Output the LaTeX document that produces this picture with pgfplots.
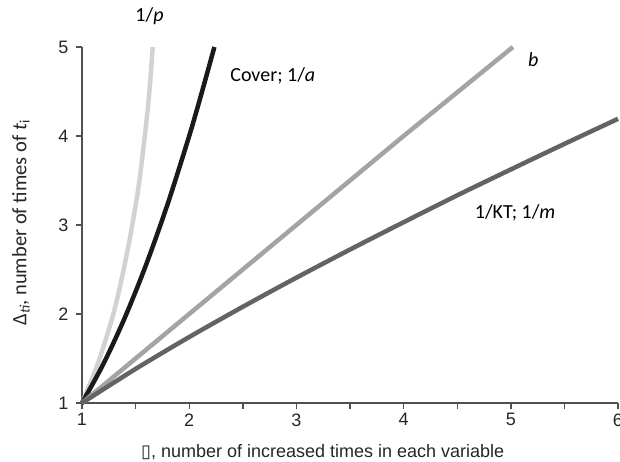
\documentclass[border=0pt]{standalone}
\usepackage{pgfplots}
\pgfplotsset{compat=1.18}
\usepackage{fontspec}
\setmainfont{Liberation Sans}
\newfontfamily\carlito{Carlito}
\newfontfamily\dejavu{DejaVu Sans}
\definecolor{lgray}{HTML}{D2D2D2}
\definecolor{mgray}{HTML}{A4A4A4}
\definecolor{dgray}{HTML}{636363}
\definecolor{blk}{HTML}{1A1A1A}
\definecolor{axc}{HTML}{505050}
\begin{document}
\begin{tikzpicture}
\begin{axis}[
  scale only axis,
  width=536pt, height=356pt,
  xmin=1, xmax=6, ymin=1, ymax=5,
  axis lines=left,
  axis line style={axc, line width=1.4pt, -},
  xtick={1,2,3,4,5,6},
  minor xtick={1.5,2.5,3.5,4.5,5.5},
  ytick={1,2,3,4,5},
  tick align=outside,
  major tick length=6pt,
  minor tick length=6pt,
  tick style={axc, line width=1.4pt},
  /pgf/number format/assume math mode=true,
  ticklabel style={font=\fontsize{18}{21}\selectfont, text=black!85},
  xticklabel style={yshift=-1pt},
  yticklabel style={xshift=-4pt},
  xlabel={{\dejavu ▯}, number of increased times in each variable},
  ylabel={Δ\textsubscript{\textit{ti}}, number of times of \textit{t}\textsubscript{i}},
  label style={text=black!85},
  xlabel style={font=\fontsize{18}{21}\selectfont, at={(axis description cs:0.449,-0.152)}, anchor=base},
  ylabel style={font=\carlito\fontsize{20.5}{24}\selectfont, at={(axis description cs:-0.114,0.506)}, anchor=center},
  clip=false,
]
% 1/p
\addplot[lgray, line width=4.5pt, smooth] coordinates {
 (1,1) (1.15,1.45) (1.29,1.99) (1.38,2.45) (1.46,2.94) (1.53,3.45) (1.586,4.0) (1.625,4.45) (1.66,5.0)
};
% Cover; 1/a
\addplot[blk, line width=4.5pt, smooth] coordinates {
 (1,1) (1.2,1.44) (1.4,1.96) (1.6,2.56) (1.8,3.24) (2.0,4.0) (2.12,4.5) (2.235,5.0)
};
% b
\addplot[mgray, line width=4.5pt] coordinates {
 (1,1) (2,2) (3,3) (4,4) (5.02,5.0)
};
% 1/KT; 1/m
\addplot[dgray, line width=4.5pt, smooth] coordinates {
 (1,1) (1.5,1.383) (2,1.741) (2.5,2.081) (3,2.408) (3.5,2.724) (4,3.031) (4.5,3.333) (5,3.624) (5.5,3.911) (6,4.193)
};
\node[font=\carlito\fontsize{20}{24}\selectfont] at (axis cs:1.63,5.35) {1/\textit{p}};
\node[font=\carlito\fontsize{20}{24}\selectfont] at (axis cs:2.78,4.68) {Cover; 1/\textit{a}};
\node[font=\carlito\fontsize{20}{24}\selectfont] at (axis cs:5.21,4.86) {\textit{b}};
\node[font=\carlito\fontsize{20}{24}\selectfont] at (axis cs:5.04,3.14) {1/KT; 1/\textit{m}};
\end{axis}
\pgfresetboundingbox
\path[use as bounding box] ([xshift=-82pt,yshift=-59pt]current axis.south west) rectangle ([xshift=2pt,yshift=47pt]current axis.north east);
\end{tikzpicture}
\end{document}
